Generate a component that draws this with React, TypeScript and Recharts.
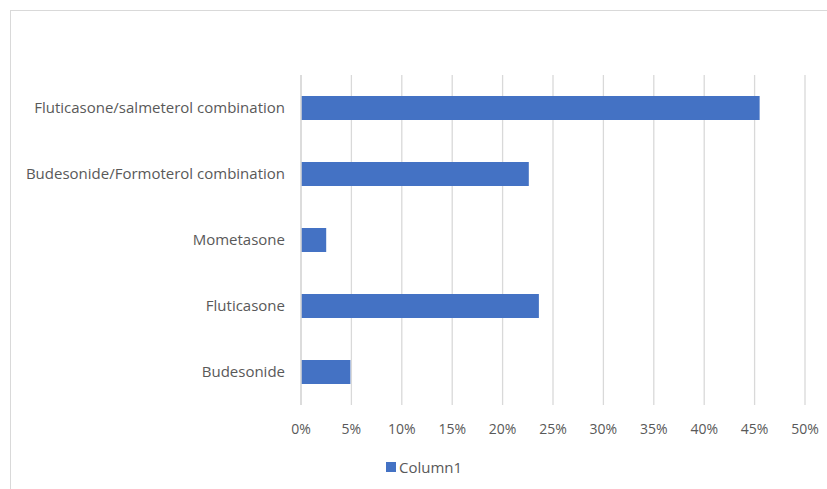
import { BarChart, Bar, XAxis, YAxis, CartesianGrid } from "recharts"

const drugs = [
  "Fluticasone/salmeterol  combination",
  "Budesonide/Formoterol combination",
  "Mometasone",
  "Fluticasone",
  "Budesonide",
]
const column1 = [0.455, 0.226, 0.025, 0.236, 0.049]
const pctTicks = [0, 0.05, 0.1, 0.15, 0.2, 0.25, 0.3, 0.35, 0.4, 0.45, 0.5]

const data = drugs.map((name, i) => ({ name, Column1: column1[i] }))

const textColor = "#595959"
const font = "'Open Sans', sans-serif"

export default function App() {
  return (
    <div style={{ position: "absolute", left: 0, top: 0, width: 827, height: 489, background: "#fff", overflow: "hidden" }}>
      <div style={{ position: "absolute", left: 10, top: 10, width: 830, height: 490, border: "1px solid #d9d9d9" }} />
      <div style={{ position: "absolute", left: 0, top: 0 }}>
        <BarChart width={827} height={489} data={data} layout="vertical" margin={{ top: 75, right: 22, bottom: 54, left: 0 }}>
          <CartesianGrid horizontal={false} stroke="#d9d9d9" strokeWidth={1.3} />
          <XAxis
            type="number"
            domain={[0, 0.5]}
            ticks={pctTicks}
            tickFormatter={(v: number) => `${Math.round(v * 100)}%`}
            axisLine={false}
            tickLine={false}
            tickMargin={13}
            interval={0}
            height={30}
            tick={{ fill: textColor, fontSize: 14, fontFamily: font }}
          />
          <YAxis
            dataKey="name"
            type="category"
            width={301}
            axisLine={{ stroke: "#d9d9d9", strokeWidth: 1.5 }}
            tickLine={false}
            tickMargin={10}
            tick={{ fill: textColor, fontSize: 15, fontFamily: font, style: { whiteSpace: "pre" } }}
          />
          <Bar dataKey="Column1" fill="#4472c4" barSize={24} isAnimationActive={false} />
        </BarChart>
      </div>
      <div style={{ position: "absolute", left: 386, top: 457, display: "flex", alignItems: "center", fontFamily: font, fontSize: 15, color: textColor }}>
        <span style={{ display: "inline-block", width: 10, height: 10, background: "#4472c4", marginRight: 3 }} />
        Column1
      </div>
    </div>
  )
}
